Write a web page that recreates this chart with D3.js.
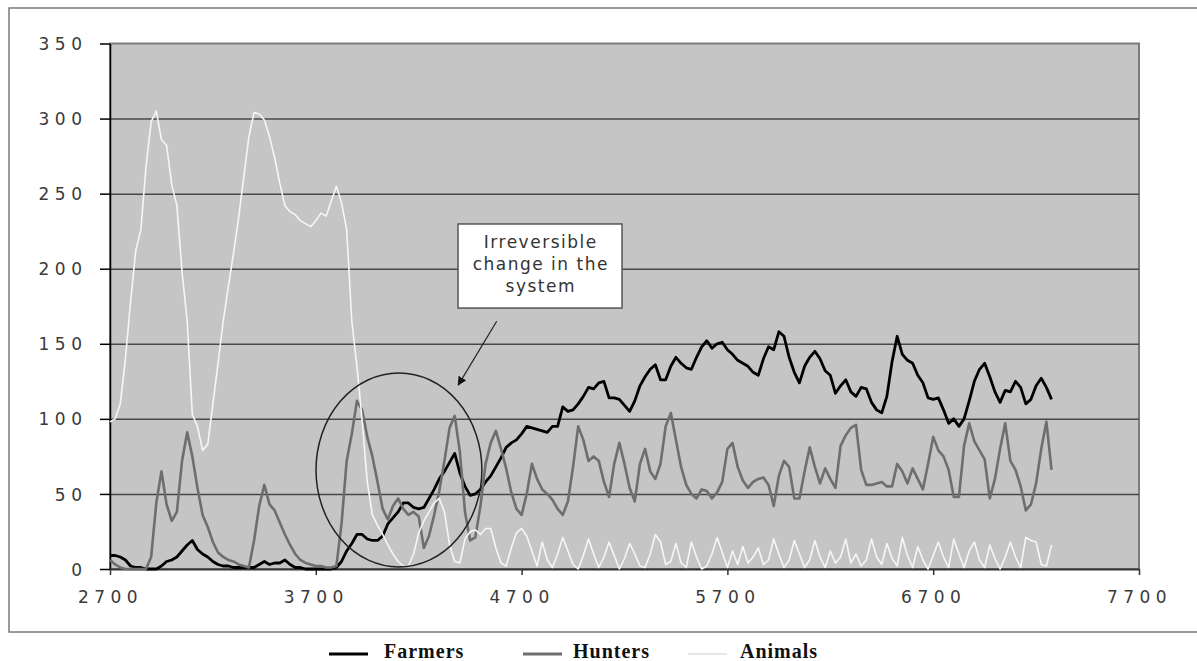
<!DOCTYPE html>
<html>
<head>
<meta charset="utf-8">
<script src="https://cdn.jsdelivr.net/npm/d3@7"></script>
<style>
  html, body { margin: 0; padding: 0; background: #fff; }
  svg { display: block; }
</style>
</head>
<body>
<svg id="chart" width="1197" height="661"></svg>
<script>
// data, one value every 25 years from 2700
const startYear = 2700;
const yearStep = 25;

const farmers = [
  9, 9, 8, 6, 2, 1, 1, 0, 0, 0,
  2, 5, 6, 8, 12, 16, 19, 13, 10, 8,
  5, 3, 2, 2, 1, 1, 1, 1, 1, 3,
  5, 3, 4, 4, 6, 3, 1, 1, 0, 0,
  0, 0, 0, 0, 1, 5, 12, 17, 23, 23,
  20, 19, 19, 22, 30, 34, 38, 44, 44, 41,
  40, 41, 47, 53, 60, 65, 71, 77, 64, 55,
  49, 50, 53, 58, 62, 68, 74, 81, 84, 86,
  90, 95, 94, 93, 92, 91, 95, 95, 108, 105,
  106, 110, 115, 121, 120, 124, 125, 114, 114, 113,
  109, 105, 112, 122, 128, 133, 136, 126, 126, 135,
  141, 137, 134, 133, 141, 148, 152, 147, 150, 151,
  146, 143, 139, 137, 135, 131, 129, 140, 148, 146,
  158, 155, 141, 131, 124, 135, 141, 145, 140, 132,
  129, 117, 122, 126, 118, 115, 121, 120, 111, 106,
  104, 115, 138, 155, 143, 139, 137, 129, 124, 114,
  113, 114, 106, 97, 100, 95, 100, 112, 125, 133,
  137, 128, 118, 111, 119, 118, 125, 121, 110, 113,
  122, 127, 121, 113
];

const hunters = [
  6, 3, 1, 0, 0, 0, 0, 0, 8, 44,
  65, 43, 32, 38, 72, 91, 75, 54, 36, 28,
  18, 11, 8, 6, 5, 3, 2, 1, 19, 42,
  56, 43, 39, 31, 23, 16, 10, 6, 4, 3,
  2, 2, 1, 1, 2, 30, 72, 90, 112, 106,
  88, 75, 58, 40, 33, 42, 47, 40, 36, 38,
  35, 14, 22, 36, 52, 72, 94, 102, 78, 38,
  19, 21, 42, 70, 84, 92, 80, 67, 51, 40,
  36, 50, 70, 60, 53, 50, 46, 40, 36, 45,
  68, 95, 86, 72, 75, 72, 58, 48, 70, 84,
  70, 54, 45, 70, 80, 65, 60, 70, 95, 104,
  86, 68, 56, 50, 47, 53, 52, 47, 51, 58,
  80, 84, 68, 59, 54, 58, 60, 61, 56, 42,
  62, 72, 68, 47, 47, 65, 81, 68, 57, 67,
  60, 54, 82, 89, 94, 96, 66, 56, 56, 57,
  58, 55, 55, 70, 65, 57, 67, 60, 53, 70,
  88, 79, 75, 66, 48, 48, 82, 97, 85, 79,
  73, 47, 60, 80, 97, 72, 66, 55, 39, 43,
  57, 80, 98, 66
];

const animals = [
  98, 100, 110, 140, 178, 212, 226, 268, 298, 305,
  286, 282, 256, 242, 198, 165, 103, 95, 79, 83,
  110, 137, 165, 188, 210, 234, 261, 288, 304, 303,
  299, 288, 274, 257, 242, 238, 236, 232, 230, 228,
  232, 237, 235, 245, 255, 244, 226, 165, 135, 99,
  58, 36, 29, 23, 16, 10, 5, 2, 2, 10,
  24, 32, 38, 44, 47, 38, 16, 5, 4, 20,
  25, 26, 23, 27, 27, 14, 4, 2, 14, 24,
  27, 22, 12, 2, 18, 6, 1, 10, 21, 12,
  3, 0, 9, 20, 10, 1, 8, 18, 9, 0,
  7, 17, 10, 2, 1, 10, 23, 18, 3, 5,
  17, 4, 1, 18, 8, 0, 2, 10, 21, 11,
  1, 12, 3, 15, 4, 8, 14, 3, 6, 20,
  10, 1, 6, 19, 10, 1, 6, 19, 8, 1,
  12, 4, 8, 20, 4, 10, 2, 6, 20, 8,
  3, 17, 7, 2, 21, 9, 1, 15, 6, 0,
  9, 18, 8, 1, 20, 10, 1, 12, 18, 6,
  1, 16, 7, 0, 8, 18, 8, 1, 21, 19,
  18, 3, 2, 16
];

const yTicks = [0, 50, 100, 150, 200, 250, 300, 350];
const xTicks = [2700, 3700, 4700, 5700, 6700, 7700];
const seriesNames = ["Farmers", "Hunters", "Animals"];
const seriesColors = ["#000000", "#6e6e6e", "#f6f6f6"];
const noteLines = ["Irreversible", "change in the", "system"];

const svg = d3.select("#chart");
const plot = { left: 110, right: 1139, top: 43.5, bottom: 569 };

const x = d3.scaleLinear().domain([2700, 7700]).range([plot.left, plot.right]);
const y = d3.scaleLinear().domain([0, 350]).range([plot.bottom, plot.top]);

// outer frame
svg.append("rect")
  .attr("x", 9).attr("y", 8).attr("width", 1200).attr("height", 624)
  .attr("fill", "#fff").attr("stroke", "#7a7a7a").attr("stroke-width", 1.5);

// plot background
svg.append("rect")
  .attr("x", plot.left).attr("y", plot.top)
  .attr("width", plot.right - plot.left).attr("height", plot.bottom - plot.top)
  .attr("fill", "#c5c5c5").attr("stroke", "#7c7c7c").attr("stroke-width", 2);

// gridlines
svg.append("g")
  .attr("transform", `translate(${plot.left},0)`)
  .call(d3.axisLeft(y).tickValues(yTicks.slice(1, -1)).tickSize(-(plot.right - plot.left)).tickFormat(""))
  .call(g => g.select(".domain").remove())
  .selectAll("line").attr("stroke", "#484848").attr("stroke-width", 1.5);

// y axis (trailing letter-spacing is counted by text-anchor end, hence the padding)
const yAxis = svg.append("g")
  .attr("transform", `translate(${plot.left},0)`)
  .call(d3.axisLeft(y).tickValues(yTicks).tickSize(10).tickSizeOuter(0).tickPadding(12.5));
yAxis.select(".domain").attr("stroke", "#000").attr("stroke-width", 1.5);
yAxis.selectAll("line").attr("stroke", "#000").attr("stroke-width", 1.5);
yAxis.selectAll("text")
  .attr("dy", "0.36em")
  .style("font-family", "'DejaVu Sans'").style("font-size", "17px")
  .style("letter-spacing", "5.5px").attr("fill", "#3a3a3a");

// x axis
const xAxis = svg.append("g")
  .attr("transform", `translate(0,${plot.bottom})`)
  .call(d3.axisBottom(x).tickValues(xTicks).tickSize(6).tickSizeOuter(0).tickFormat(d3.format("d")));
xAxis.select(".domain").attr("stroke", "#333").attr("stroke-width", 2);
xAxis.selectAll("line").attr("stroke", "#333").attr("stroke-width", 1.5);
xAxis.selectAll("text")
  .attr("y", 33.7).attr("dy", null)
  .style("font-family", "'DejaVu Sans'").style("font-size", "17px")
  .style("letter-spacing", "5.5px").attr("fill", "#3a3a3a");

// series
const line = d3.line()
  .x((d, i) => x(startYear + i * yearStep))
  .y(d => y(d));

const allSeries = [farmers, hunters, animals];
const widths = [2.8, 2.6, 1.6];

allSeries.forEach((s, k) => {
  svg.append("path")
    .datum(s)
    .attr("d", line)
    .attr("fill", "none")
    .attr("stroke", seriesColors[k])
    .attr("stroke-width", widths[k])
    .attr("stroke-linejoin", "round");
});

// annotation: circle, box, arrow
svg.append("ellipse")
  .attr("cx", x(4104)).attr("cy", y(66))
  .attr("rx", x(4104 + 403) - x(4104)).attr("ry", y(0) - y(64.6))
  .attr("fill", "none").attr("stroke", "#222").attr("stroke-width", 1.5);

const boxL = x(4391), boxR = x(5188), boxT = y(229.8), boxB = y(173.8);
svg.append("rect")
  .attr("x", boxL).attr("y", boxT)
  .attr("width", boxR - boxL).attr("height", boxB - boxT)
  .attr("fill", "#fff").attr("stroke", "#555").attr("stroke-width", 1.5);

svg.append("g").selectAll("text")
  .data(noteLines)
  .enter()
  .append("text")
  .attr("x", (boxL + boxR) / 2 + 0.75)
  .attr("y", (d, i) => 248 + i * 22)
  .attr("text-anchor", "middle")
  .style("font-family", "'DejaVu Sans'").style("font-size", "17px")
  .style("letter-spacing", "1.5px")
  .attr("fill", "#333")
  .text(d => d);

svg.append("defs").append("marker")
  .attr("id", "arrow")
  .attr("viewBox", "0 0 10 10")
  .attr("refX", 9).attr("refY", 5)
  .attr("markerWidth", 9).attr("markerHeight", 9)
  .attr("markerUnits", "userSpaceOnUse")
  .attr("orient", "auto")
  .append("path").attr("d", "M0,0 L10,5 L0,10 z").attr("fill", "#111");

svg.append("line")
  .attr("x1", x(4579)).attr("y1", y(165))
  .attr("x2", x(4392)).attr("y2", y(122.5))
  .attr("stroke", "#222").attr("stroke-width", 1.2)
  .attr("marker-end", "url(#arrow)");

// legend
const legendLineX = [329, 523, 688];
const legendTextX = [384, 573, 740];
const legend = svg.append("g");
seriesNames.forEach((name, k) => {
  legend.append("line")
    .attr("x1", legendLineX[k]).attr("x2", legendLineX[k] + 39)
    .attr("y1", 654).attr("y2", 654)
    .attr("stroke", k === 2 ? "#e6e6e6" : seriesColors[k])
    .attr("stroke-width", k === 2 ? 2 : 2.8);
  legend.append("text")
    .attr("x", legendTextX[k]).attr("y", 658)
    .style("font-family", "'Liberation Serif'").style("font-size", "20px")
    .style("font-weight", "bold").style("letter-spacing", "1px")
    .attr("fill", "#111")
    .text(name);
});
</script>
</body>
</html>
